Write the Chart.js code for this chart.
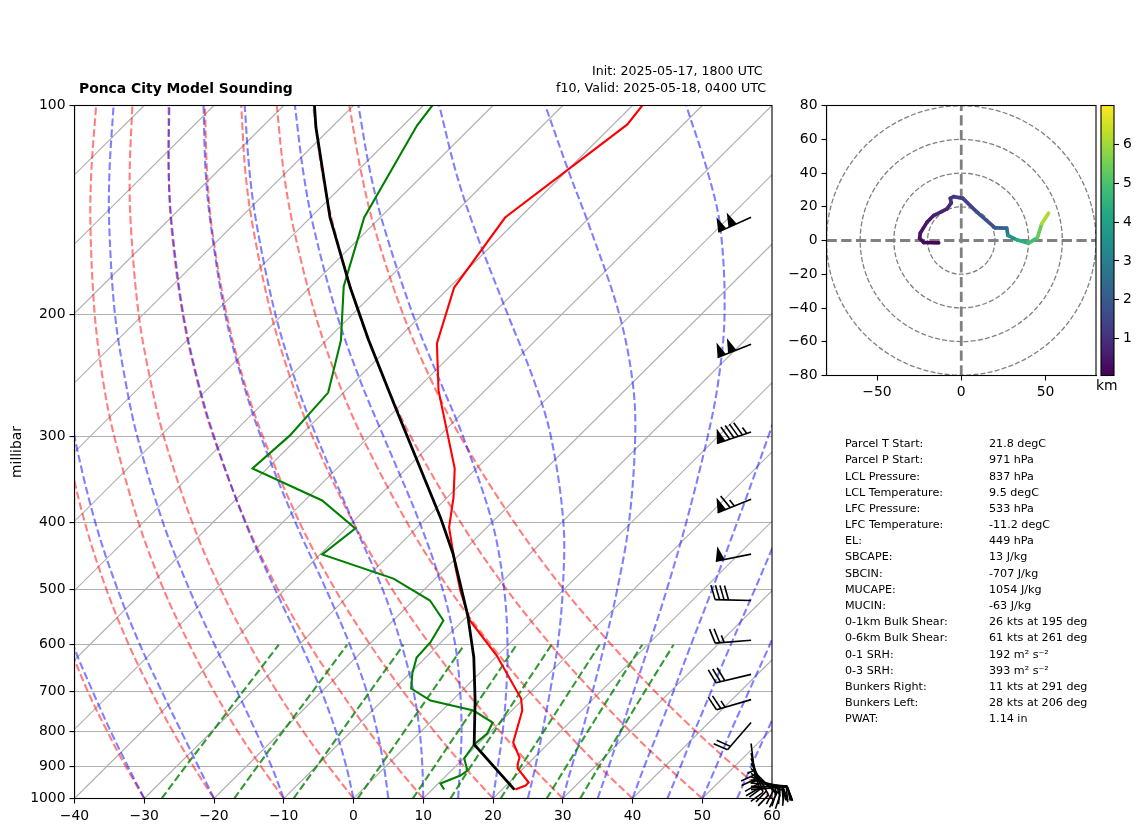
<!DOCTYPE html>
<html><head><meta charset="utf-8">
<style>
html,body{margin:0;padding:0;background:#fff;width:1142px;height:832px;overflow:hidden}
canvas{position:absolute;display:block}
.t{position:absolute;font-family:"DejaVu Sans";color:#000;white-space:pre;line-height:16px}
</style>
<script src="https://cdn.jsdelivr.net/npm/chart.js@4"></script>
</head><body>
<canvas id="skew" width="1142" height="832" style="left:0;top:0"></canvas>
<canvas id="hodo" width="340" height="310" style="left:780px;top:95px"></canvas>
<canvas id="cbar" width="52" height="290" style="left:1090px;top:95px"></canvas>
<script>
// ---------- sounding profiles (hPa / degC) ----------
const tempP=[100,106.5,145.1,183.1,220.5,257.7,334.1,367.8,406.4,464.2,501,518,553.5,621.8,717.4,746.5,830,872.8,890,905,948.2,957.7,970.5];
const tempC=[-58.6,-58,-62.1,-59.3,-53.7,-46.7,-33.1,-29.1,-25.4,-18.7,-14.7,-12.8,-9,-0.1,9.6,11.5,14.8,17.9,18.5,19.2,22.8,22.8,21.9];
const dewP=[100,106.9,145.1,182.4,218.3,259.6,299.5,334.1,371.5,407.8,444.5,481.6,518,553.5,595.4,625.9,660.2,693.9,722.2,746.5,777,806,835.6,875.5,911.2,926.4,951.4,970.5];
const dewC=[-88.7,-88,-82.3,-75.3,-67.9,-62.2,-61.5,-62.1,-47.5,-38.7,-39.7,-26,-17.6,-12.8,-11.5,-11.3,-9.6,-7.6,-3.1,4.5,9,9.8,9.5,10.1,12.3,12,10.3,11.7];
const parcelP=[100,107.6,145.1,183.1,217.6,272.8,393,443,544.7,625.9,722.2,835.6,971];
const parcelC=[-105.6,-102.2,-87.2,-74.2,-64.1,-50.4,-28.1,-21.1,-10,-3.1,3.3,9.5,21.8];
// ---------- background curves ----------
const isotherms=[-130,-120,-110,-100,-90,-80,-70,-60,-50,-40,-30,-20,-10,0,10,20,30,40,50];
const adiabatP=[1000,900,800,700,600,500,400,300,250,200,150,125,100];
const dryAdiabats=[
[-30,-37.2,-45,-53.6,-63,-73.7,-86,-100.8,-109.5,-119.6,-131.7,-138.9,-147.2],
[-20,-27.5,-35.6,-44.5,-54.4,-65.5,-78.3,-93.7,-102.8,-113.3,-125.9,-133.4,-142],
[-10,-17.8,-26.3,-35.5,-45.7,-57.3,-70.6,-86.6,-96.1,-107,-120.1,-127.9,-136.9],
[0,-8.1,-16.9,-26.5,-37.1,-49.1,-62.9,-79.5,-89.3,-100.7,-114.3,-122.4,-131.7],
[10,1.6,-7.5,-17.4,-28.5,-40.9,-55.2,-72.4,-82.6,-94.4,-108.5,-116.8,-126.5],
[20,11.3,1.9,-8.4,-19.8,-32.7,-47.5,-65.3,-75.9,-88.1,-102.7,-111.3,-121.3],
[30,21,11.3,0.6,-11.2,-24.5,-39.8,-58.2,-69.1,-81.7,-96.8,-105.8,-116.1],
[40,30.7,20.7,9.7,-2.5,-16.3,-32.1,-51.1,-62.4,-75.4,-91,-100.3,-111],
[50,40.4,30,18.7,6.1,-8.1,-24.4,-44.1,-55.7,-69.1,-85.2,-94.8,-105.8],
[60,50.1,39.4,27.7,14.8,0.1,-16.7,-37,-49,-62.8,-79.4,-89.2,-100.6]];
const moistAdiabats=[
[-30,-36.9,-44.5,-52.9,-62.4,-73,-85.4,-100.2,-109,-119.1,-131.3,-138.5,-146.8],
[-20,-26.8,-34.4,-43,-52.8,-63.9,-76.8,-92.3,-101.4,-112,-124.7,-132.3,-141],
[-10,-16.3,-23.7,-32.2,-42.1,-53.6,-67.1,-83.3,-92.9,-104.1,-117.4,-125.3,-134.4],
[0,-5.6,-12.2,-20.1,-29.7,-41.3,-55.3,-72.3,-82.5,-94.3,-108.4,-116.8,-126.4],
[5,-0.2,-6.3,-13.6,-22.7,-34,-48.1,-65.6,-76.1,-88.3,-102.8,-111.5,-121.5],
[10,5.3,-0.2,-6.9,-15.3,-25.9,-39.8,-57.6,-68.5,-81.1,-96.2,-105.2,-115.6],
[15,10.7,5.8,-0.2,-7.6,-17.3,-30.3,-48,-59.2,-72.3,-88.1,-97.5,-108.4],
[20,16.1,11.7,6.4,-0.1,-8.5,-19.9,-36.6,-47.8,-61.4,-78,-87.9,-99.3],
[25,21.5,17.4,12.7,7.1,-0.1,-9.7,-24,-34.3,-47.8,-65.1,-75.6,-87.7],
[30,26.7,23.1,18.8,13.8,7.7,-0.3,-11.9,-20.2,-31.8,-48.5,-59.4,-72.5],
[35,32,28.6,24.7,20.2,14.8,7.9,-1.5,-7.9,-16.7,-29.8,-39.5,-52.3],
[40,37.1,34,30.4,26.2,21.3,15.2,7.2,2,-4.8,-14.2,-20.9,-30.2],
[45,42.3,39.2,35.8,31.9,27.4,21.8,14.6,10.1,4.5,-3,-7.9,-14.3],
[50,47.4,44.4,41.2,37.5,33.1,27.9,21.3,17.1,12,5.6,1.4,-3.6],
[55,52.4,49.6,46.4,42.8,38.6,33.6,27.3,23.4,18.6,12.7,8.9,4.4],
[60,57.5,54.7,51.6,48,43.9,39,32.9,29.1,24.6,18.9,15.3,11.1]];
const mixP=[1000,900,800,700,600];
const mixLines=[
[-27.5,-28.7,-29.9,-31.3,-32.9],
[-17.1,-18.4,-19.8,-21.3,-23.1],
[-8.6,-9.9,-11.4,-13.1,-15],
[0.6,-0.8,-2.4,-4.2,-6.3],
[8.5,7,5.3,3.4,1.2],
[13.9,12.2,10.5,8.5,6.2],
[21.1,19.4,17.6,15.5,13.1],
[27.7,25.9,23.9,21.7,19.2],
[32.5,30.6,28.6,26.3,23.7]];
const pressureTicks=[100,200,300,400,500,600,700,800,900,1000];
// ---------- wind barbs (hPa, knots) ----------
const windP=[145,221,296,370,444,518,591,662,720,777,833,860,875,890,905,920,930,940,950,960,965,971];
const windU=[91,93,90,60,49,40,25,29,24,13,-3,-5,-7,-10,-15,-18,-21,-24,-25,-22,-18,-13];
const windV=[41,37,30,24,10,-1,2,7,7,15,25,22,20,18,15,13,9,5,2,0,-1,-1];
const barbColumnT=57;
// ---------- hodograph ----------
const hodoU=[-13.4,-22.3,-24.7,-24.3,-20.3,-16.4,-8.5,-5.9,-6.5,-4.5,1,9.3,20.1,27,27.7,33,39.9,45.2,47.8,51.8];
const hodoV=[-1.4,-1.2,1.4,4.5,10.9,14.8,18.8,22.3,25,26,25,16.8,7.5,7.3,3,0.4,-1.6,1.6,9.9,16.2];
const hodoKm=[0.1,0.2,0.3,0.4,0.5,0.6,0.8,0.95,1,1.1,1.3,1.6,2,2.3,3,4,4.7,5,5.7,6.5];
const hodoRings=[20,40,60,80];
const hodoXTicks=[-50,0,50];
const cbarTicks=[1,2,3,4,5,6];
// ---------- text ----------
const statLabels=["Parcel T Start:","Parcel P Start:","LCL Pressure:","LCL Temperature:","LFC Pressure:","LFC Temperature:","EL:","SBCAPE:","SBCIN:","MUCAPE:","MUCIN:","0-1km Bulk Shear:","0-6km Bulk Shear:","0-1 SRH:","0-3 SRH:","Bunkers Right:","Bunkers Left:","PWAT:"];
const statValues=["21.8 degC","971 hPa","837 hPa","9.5 degC","533 hPa","-11.2 degC","449 hPa","13 J/kg","-707 J/kg","1054 J/kg","-63 J/kg","26 kts at 195 deg","61 kts at 261 deg","192 m\u00b2 s\u207b\u00b2","393 m\u00b2 s\u207b\u00b2","11 kts at 291 deg","28 kts at 206 deg","1.14 in"];

const SKEW=100, FONT='"DejaVu Sans"', FS=13.9;
Chart.defaults.font.family=FONT; Chart.defaults.font.size=FS; Chart.defaults.color='#000';
Chart.defaults.devicePixelRatio=1; Chart.defaults.animation=false; Chart.defaults.responsive=false;
const sk=(t,p)=>({x:t+SKEW*Math.log10(1000/p),y:p});
const curve=(ps,ts)=>ps.map((p,i)=>sk(ts[i],p));
const minus=s=>String(s).replace('-','\u2212');
const base={type:'scatter',showLine:true,pointRadius:0,pointHoverRadius:0};
const DASH=[7.7,3.3];
const ds=[];
ds.push({...base,label:'Parcel',data:curve(parcelP,parcelC),borderColor:'#000',borderWidth:2.8});
ds.push({...base,label:'Temperature',data:curve(tempP,tempC),borderColor:'#ff0000',borderWidth:2.1});
ds.push({...base,label:'Dewpoint',data:curve(dewP,dewC),borderColor:'#008000',borderWidth:2.1});
mixLines.forEach(r=>ds.push({...base,data:curve(mixP,r),borderColor:'rgba(0,128,0,.8)',borderWidth:2.1,borderDash:DASH}));
moistAdiabats.forEach(r=>ds.push({...base,data:curve(adiabatP,r),borderColor:'rgba(0,0,255,.5)',borderWidth:2.1,borderDash:DASH,tension:.35}));
dryAdiabats.forEach(r=>ds.push({...base,data:curve(adiabatP,r),borderColor:'rgba(255,0,0,.5)',borderWidth:2.1,borderDash:DASH,tension:.35}));
isotherms.forEach(t=>ds.push({...base,data:[sk(t,1000),sk(t,100)],borderColor:'#b0b0b0',borderWidth:1.1}));

const frame={id:'frame',afterDatasetsDraw(c){const a=c.chartArea,g=c.ctx;g.save();g.strokeStyle='#000';g.lineWidth=1.1;g.strokeRect(a.left,a.top,a.right-a.left,a.bottom-a.top);g.restore();}};

const barbs={id:'barbs',afterDatasetsDraw(c){
  const g=c.ctx,xs=c.scales.x,ys=c.scales.y,L=36,fh=14.4,fw=9,sp=4.5;
  g.save();g.strokeStyle='#000';g.fillStyle='#000';g.lineWidth=1.6;g.lineJoin='round';
  windP.forEach((p,i)=>{
    const bx=xs.getPixelForValue(barbColumnT),by=ys.getPixelForValue(p);
    const u=windU[i],v=windV[i],sRaw=Math.hypot(u,v),m=sRaw||1,dx=-u/m,dy=v/m,nx=-dy,ny=dx;
    const pt=(o,h)=>[bx+dx*o+nx*h,by+dy*o+ny*h];
    let s=Math.round(sRaw/5)*5,fl=Math.floor(s/50);s-=fl*50;let fu=Math.floor(s/10);s-=fu*10;const ha=s>=5;
    g.beginPath();g.moveTo(bx,by);g.lineTo(...pt(L,0));g.stroke();
    let o=L;
    for(let k=0;k<fl;k++){if(o!==L)o+=sp/2;g.beginPath();g.moveTo(...pt(o,0));g.lineTo(...pt(o-fw/2,fh));g.lineTo(...pt(o-fw,0));g.closePath();g.fill();o-=fw+sp;}
    for(let k=0;k<fu;k++){g.beginPath();g.moveTo(...pt(o,0));g.lineTo(...pt(o+fw/2,fh));g.stroke();o-=sp;}
    if(ha){if(o===L)o-=1.5*sp;g.beginPath();g.moveTo(...pt(o,0));g.lineTo(...pt(o+fw/4,fh/2));g.stroke();}
  });
  g.restore();
}};

new Chart(document.getElementById('skew'),{type:'scatter',data:{datasets:ds},
 plugins:[frame,barbs],
 options:{layout:{padding:{top:105.5,right:370,left:0,bottom:0}},
  plugins:{legend:{display:false},tooltip:{enabled:false}},
  scales:{
   x:{type:'linear',min:-40,max:60,
      afterFit(s){s.height=33.5;s.paddingLeft=0;s.paddingRight=0;},
      grid:{drawOnChartArea:false,tickLength:5,tickColor:'#000',tickWidth:1.1},
      border:{color:'#000',width:1.1},
      ticks:{stepSize:10,autoSkip:false,maxRotation:0,padding:5,callback:v=>minus(v)}},
   y:{type:'logarithmic',min:100,max:1000,reverse:true,
      afterFit(s){s.width=74.5;s.paddingTop=0;s.paddingBottom=0;},
      afterBuildTicks(s){s.ticks=pressureTicks.map(v=>({value:v}));},
      grid:{color:'#b0b0b0',lineWidth:1.1,tickLength:5,tickColor:'#000',tickWidth:1.1},
      border:{color:'#000',width:1.1},
      title:{display:true,text:'millibar',padding:{top:9,bottom:0}},
      ticks:{autoSkip:false,padding:4,callback:v=>String(v)}}
  }}});

// ---------- hodograph ----------
const VIR=['#440154','#482475','#414487','#355f8d','#2a788e','#21918c','#22a884','#44bf70','#7ad151','#bddf26','#fde725'];
const CMIN=0.05,CMAX=7;
function vir(km){let t=(km-CMIN)/(CMAX-CMIN);t=Math.max(0,Math.min(1,t))*10;const i=Math.min(9,Math.floor(t)),f=t-i;
 const h=s=>[1,3,5].map(k=>parseInt(s.substr(k,2),16));const a=h(VIR[i]),b=h(VIR[i+1]);
 return `rgb(${a.map((v,k)=>Math.round(v+(b[k]-v)*f)).join(',')})`;}
const rings={id:'rings',beforeDatasetsDraw(c){const a=c.chartArea,g=c.ctx,xs=c.scales.x,ys=c.scales.y;
 g.save();g.beginPath();g.rect(a.left,a.top,a.right-a.left,a.bottom-a.top);g.clip();
 g.strokeStyle='#808080';g.lineWidth=1.3;g.setLineDash([5,2.2]);
 hodoRings.forEach(r=>{g.beginPath();g.arc(xs.getPixelForValue(0),ys.getPixelForValue(0),xs.getPixelForValue(r)-xs.getPixelForValue(0),0,Math.PI*2);g.stroke();});
 g.restore();}};
const hodoPts=hodoU.map((u,i)=>({x:u,y:hodoV[i]}));
new Chart(document.getElementById('hodo'),{type:'scatter',
 data:{datasets:[
  {...base,label:'Hodograph',data:hodoPts,borderWidth:3.7,borderColor:vir(1),borderCapStyle:'round',borderJoinStyle:'round',
   segment:{borderColor:c=>vir((hodoKm[c.p0DataIndex]+hodoKm[c.p1DataIndex])/2)}},
  {...base,data:[{x:-80,y:0},{x:80,y:0}],borderColor:'#808080',borderWidth:2.8,borderDash:[10.3,4.4]},
  {...base,data:[{x:0,y:-80},{x:0,y:80}],borderColor:'#808080',borderWidth:2.8,borderDash:[10.3,4.4]}
 ]},
 plugins:[rings,frame],
 options:{layout:{padding:{top:10.5,right:24,left:0,bottom:0}},
  plugins:{legend:{display:false},tooltip:{enabled:false}},
  scales:{
   x:{type:'linear',min:-80,max:80,afterFit(s){s.height=29.5;s.paddingLeft=0;s.paddingRight=0;},
      afterBuildTicks(s){s.ticks=hodoXTicks.map(v=>({value:v}));},
      grid:{drawOnChartArea:false,tickLength:5,tickColor:'#000',tickWidth:1.1},border:{color:'#000',width:1.1},
      ticks:{autoSkip:false,maxRotation:0,padding:4,callback:v=>minus(v)}},
   y:{type:'linear',min:-80,max:80,afterFit(s){s.width=46.5;s.paddingTop=0;s.paddingBottom=0;},
      grid:{drawOnChartArea:false,tickLength:5,tickColor:'#000',tickWidth:1.1},border:{color:'#000',width:1.1},
      ticks:{stepSize:20,autoSkip:false,padding:4,callback:v=>minus(v)}}
  }}});

// ---------- colour bar ----------
new Chart(document.getElementById('cbar'),{type:'bar',
 data:{labels:['km'],datasets:[{data:[[CMIN,CMAX]],barPercentage:1,categoryPercentage:1,borderWidth:0,
  backgroundColor(c){const a=c.chart.chartArea;if(!a)return VIR[0];const gr=c.chart.ctx.createLinearGradient(0,a.bottom,0,a.top);VIR.forEach((v,i)=>gr.addColorStop(i/10,v));return gr;}}]},
 plugins:[frame],
 options:{layout:{padding:{top:10.5,left:11,right:0,bottom:9.5}},
  plugins:{legend:{display:false},tooltip:{enabled:false}},
  scales:{
   x:{display:false},
   y:{type:'linear',position:'right',min:CMIN,max:CMAX,afterFit(s){s.width=28;s.paddingTop=0;s.paddingBottom=0;},
      afterBuildTicks(s){s.ticks=cbarTicks.map(v=>({value:v}));},
      grid:{drawOnChartArea:false,tickLength:5,tickColor:'#000',tickWidth:1.1},border:{display:false},
      ticks:{autoSkip:false,padding:4,callback:v=>String(v)}}
  }}});

// ---------- text ----------
function addText(s,x,cy,size,w){const d=document.createElement('div');d.className='t';d.textContent=s;
 d.style.left=x+'px';d.style.top=(cy-8)+'px';d.style.fontSize=size+'px';if(w)d.style.fontWeight=w;document.body.appendChild(d);}
addText('Ponca City Model Sounding',79,87.5,13.9,'bold');
addText('Init: 2025-05-17, 1800 UTC',592,70.5,12.6);
addText('f10, Valid: 2025-05-18, 0400 UTC',556,87.5,12.65);
addText('km',1096,384.5,13.9);
statLabels.forEach((s,i)=>addText(s,845,444.3+i*16.17,11.15));
statValues.forEach((s,i)=>addText(s,989,444.3+i*16.17,11.15));
</script>
</body></html>
